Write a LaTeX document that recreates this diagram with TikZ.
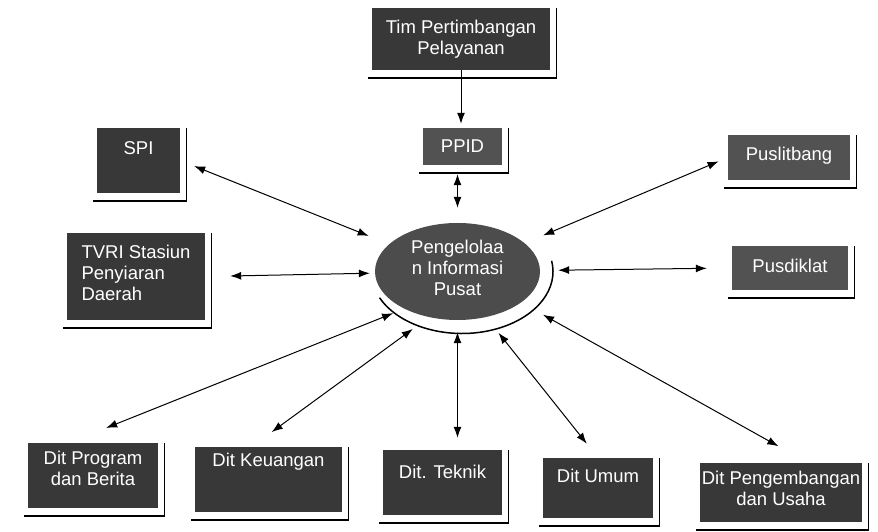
\documentclass[tikz,border=0pt]{standalone}
\usepackage{fontspec}
\setmainfont{Liberation Sans}
\usetikzlibrary{shapes.geometric,arrows.meta}

\begin{document}
\begin{tikzpicture}[x=1pt,y=1pt,
  box/.style={fill=black!78, text=white, inner sep=0pt, align=center, font=\fontsize{18.5}{21}\selectfont},
  arr/.style={<->, >={Latex[length=11pt,width=8pt]}, line width=1pt}]
\useasboundingbox (0,0) rectangle (878,532);

\node[box, minimum width=178pt, minimum height=62pt] (tim) at (461,493) {Tim Pertimbangan\\Pelayanan};
\node[box, fill=black!68, minimum width=79pt, minimum height=37pt] (ppid) at (462.5,385.5) {PPID};
\node[box, minimum width=83pt, minimum height=65pt, text depth=24pt] (spi) at (138.5,371.5) {SPI};
\node[box, fill=black!68, minimum width=122pt, minimum height=45pt, text depth=8pt] (pus) at (789,374.5) {Puslitbang};
\node[box, align=left, minimum width=138pt, minimum height=87pt, text depth=8pt] (tvri) at (136,255.5) {TVRI Stasiun\\Penyiaran\\Daerah};
\node[box, fill=black!68, minimum width=116pt, minimum height=44pt, text depth=5pt] (pusd) at (790,264) {Pusdiklat};
\node[box, ellipse, fill=black!70, minimum width=165pt, minimum height=97pt, text depth=8pt] (ell) at (457.5,260.5) {Pengelolaa\\n Informasi\\Pusat};

\node[box, minimum width=130pt, minimum height=65pt, text depth=15pt] (prog) at (93,56.5) {Dit Program\\dan Berita};
\node[box, minimum width=147pt, minimum height=65pt, text depth=39pt] (keu) at (268.5,52.5) {Dit Keuangan};
\node[box, minimum width=119pt, minimum height=65pt, text depth=22pt] (tek) at (442.5,49.5) {Dit. Teknik};
\node[box, minimum width=110pt, minimum height=60pt, text depth=25pt] (umu) at (598,44) {Dit Umum};
\node[box, minimum width=162pt, minimum height=59pt, text depth=9pt] (peng) at (781,39.5) {Dit Pengembangan\\dan Usaha};

\foreach \n in {tim,ppid,spi,pus,tvri,pusd,prog,keu,tek,umu,peng}{
  \draw[line width=1.2pt] ([xshift=6pt]\n.north east) -- ([xshift=6pt,yshift=-9pt]\n.south east);
  \draw[line width=2.5pt] ([xshift=-4pt,yshift=-8pt]\n.south west) -- ([xshift=7pt,yshift=-8pt]\n.south east);
}
\draw[line width=1.5pt] ([xshift=4.5pt]ell.center) ++(205:91pt and 62pt) arc[start angle=205,end angle=370,x radius=91pt,y radius=62pt];

\path[arr]
  (tim.south) edge[->, shorten >=4pt] (tim.south |- ppid.north)
  (ell.north |- ppid.south) edge[shorten <=9pt, shorten >=15pt] (ell.north)
  (spi.east) edge[shorten <=15pt, shorten >=22pt] (ell)     (pus.west) edge[shorten <=10pt, shorten >=20pt] (ell)
  (tvri.east) edge[shorten <=25pt, shorten >=5pt] (ell)     (pusd.west) edge[shorten <=25pt, shorten >=18pt] (ell)
  ([xshift=-24pt]prog.north) edge[shorten <=40pt, shorten >=12pt] (ell.215)
  ([xshift=-17pt]keu.north) edge[shorten <=25pt, shorten >=20pt] (ell.238)
  (ell.south |- tek.north) edge[shorten <=12pt, shorten >=12pt] (ell.south)
  (umu.north) edge[shorten <=18pt, shorten >=20pt] (ell.302)
  ([xshift=27pt]peng.north) edge[shorten <=34pt, shorten >=25pt] (ell.334);
\end{tikzpicture}
\end{document}
